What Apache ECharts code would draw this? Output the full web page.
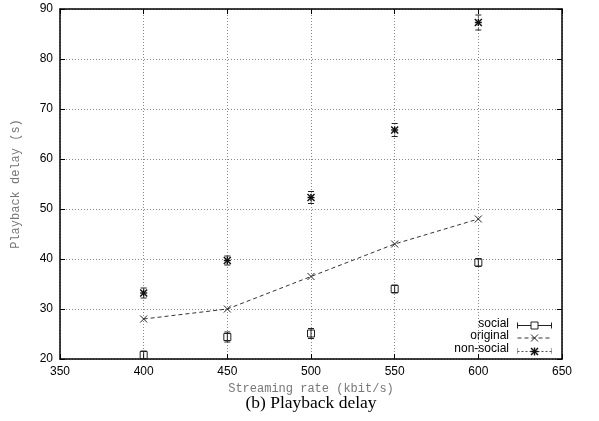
<!DOCTYPE html>
<html><head><meta charset="utf-8">
<script src="https://cdn.jsdelivr.net/npm/echarts@6/dist/echarts.min.js"></script>
<style>html,body{margin:0;padding:0;background:#fff}#c{width:599px;height:421px}</style>
</head><body><div id="c"></div>
<script>
const rates = [400, 450, 500, 550, 600];
const social = [20.8, 24.4, 25.1, 34.0, 39.3];
const socialErr = [0.8, 1.0, 1.0, 0.8, 0.8];
const original = [28.0, 30.0, 36.5, 43.0, 48.0];
const nonSocial = [33.2, 39.7, 52.3, 65.8, 87.3];
const nonSocialErr = [1.0, 0.9, 1.2, 1.3, 1.5];
const xTicks = [350, 400, 450, 500, 550, 600, 650];
const yTicks = [20, 30, 40, 50, 60, 70, 80, 90];

const chart = echarts.init(document.getElementById('c'), null, {renderer: 'canvas'});

function errData(vals, errs) {
  return rates.map((r, i) => [r, vals[i], vals[i] - errs[i], vals[i] + errs[i]]);
}

function markerShape(kind, x, y) {
  const s = 3.5;
  if (kind === 'square') {
    return {type: 'rect', shape: {x: x - s, y: y - s, width: 2 * s, height: 2 * s}, style: {fill: 'none', stroke: '#222', lineWidth: 1}};
  }
  if (kind === 'cross') {
    return {type: 'group', children: [
      {type: 'line', shape: {x1: x - s, y1: y - s, x2: x + s, y2: y + s}, style: {stroke: '#222', lineWidth: 1}},
      {type: 'line', shape: {x1: x - s, y1: y + s, x2: x + s, y2: y - s}, style: {stroke: '#222', lineWidth: 1}}
    ]};
  }
  return {type: 'group', children: [
    {type: 'line', shape: {x1: x - s, y1: y - s, x2: x + s, y2: y + s}, style: {stroke: '#111', lineWidth: 1.4}},
    {type: 'line', shape: {x1: x - s, y1: y + s, x2: x + s, y2: y - s}, style: {stroke: '#111', lineWidth: 1.4}},
    {type: 'line', shape: {x1: x - s, y1: y, x2: x + s, y2: y}, style: {stroke: '#111', lineWidth: 1.4}},
    {type: 'line', shape: {x1: x, y1: y - s, x2: x, y2: y + s}, style: {stroke: '#111', lineWidth: 1.4}}
  ]};
}

function errRender(kind, dashed) {
  return function (params, api) {
    const p = api.coord([api.value(0), api.value(1)]);
    const lo = api.coord([api.value(0), api.value(2)]);
    const hi = api.coord([api.value(0), api.value(3)]);
    const cap = 3;
    const ls = {stroke: dashed ? '#555' : '#222', lineWidth: 1, lineDash: dashed ? [2, 2] : null};
    return {type: 'group', children: [
      {type: 'line', shape: {x1: lo[0], y1: lo[1], x2: hi[0], y2: hi[1]}, style: ls},
      {type: 'line', shape: {x1: lo[0] - cap, y1: lo[1], x2: lo[0] + cap, y2: lo[1]}, style: {stroke: '#222', lineWidth: 1}},
      {type: 'line', shape: {x1: hi[0] - cap, y1: hi[1], x2: hi[0] + cap, y2: hi[1]}, style: {stroke: '#222', lineWidth: 1}},
      markerShape(kind, p[0], p[1])
    ]};
  };
}

function markRender(kind) {
  return function (params, api) {
    const p = api.coord([api.value(0), api.value(1)]);
    return markerShape(kind, p[0], p[1]);
  };
}

const tickFont = {fontFamily: 'Liberation Sans', fontSize: 12, color: '#000'};
const gridLine = {show: true, lineStyle: {color: '#888', type: [1, 2], width: 1}};

chart.setOption({
  animation: false,
  grid: {left: 60, right: 37, top: 9, bottom: 62},
  xAxis: [{
    type: 'value', min: 350, max: 650, interval: 50,
    axisLine: {show: true, lineStyle: {color: '#000', width: 1.5}},
    axisTick: {show: true, inside: true, length: 5, lineStyle: {color: '#000'}},
    axisLabel: Object.assign({margin: 7, formatter: v => xTicks.includes(v) ? String(v) : ''}, tickFont),
    splitLine: gridLine,
    name: 'Streaming rate (kbit/s)', nameLocation: 'middle', nameGap: 16,
    nameTextStyle: {fontFamily: 'Liberation Mono', fontSize: 12, color: '#777'}
  }, {
    type: 'value', min: 350, max: 650, interval: 50, position: 'top',
    axisLine: {show: true, lineStyle: {color: '#000', width: 1.5}},
    axisTick: {show: true, inside: true, length: 5, lineStyle: {color: '#000'}},
    axisLabel: {show: false}, splitLine: {show: false}
  }],
  yAxis: [{
    type: 'value', min: 20, max: 90, interval: 10,
    axisLine: {show: true, lineStyle: {color: '#000', width: 1.5}},
    axisTick: {show: true, inside: true, length: 5, lineStyle: {color: '#000'}},
    axisLabel: Object.assign({margin: 7, formatter: v => yTicks.includes(v) ? String(v) : ''}, tickFont),
    splitLine: gridLine,
    name: 'Playback delay (s)', nameLocation: 'middle', nameGap: 38, nameRotate: 90,
    nameTextStyle: {fontFamily: 'Liberation Mono', fontSize: 12, color: '#777'}
  }, {
    type: 'value', min: 20, max: 90, interval: 10, position: 'right',
    axisLine: {show: true, lineStyle: {color: '#000', width: 1.5}},
    axisTick: {show: true, inside: true, length: 5, lineStyle: {color: '#000'}},
    axisLabel: {show: false}, splitLine: {show: false}
  }],
  series: [
    {type: 'line', data: rates.map((r, i) => [r, original[i]]), symbol: 'none',
     lineStyle: {color: '#333', width: 1, type: [4, 3]}, z: 3},
    {type: 'custom', data: rates.map((r, i) => [r, original[i]]), renderItem: markRender('cross'), z: 4},
    {type: 'custom', data: errData(social, socialErr), renderItem: errRender('square', false), z: 5},
    {type: 'custom', data: errData(nonSocial, nonSocialErr), renderItem: errRender('star', true), z: 5}
  ],
  graphic: [
    {type: 'text', right: 90, top: 318, style: {text: 'social', font: '12px Liberation Sans', fill: '#000', textAlign: 'right'}},
    {type: 'text', right: 90, top: 330, style: {text: 'original', font: '12px Liberation Sans', fill: '#000', textAlign: 'right'}},
    {type: 'text', right: 90, top: 343, style: {text: 'non-social', font: '12px Liberation Sans', fill: '#000', textAlign: 'right'}},
    {type: 'group', left: 515, top: 320, children: [
      {type: 'line', shape: {x1: 0, y1: 4, x2: 34, y2: 4}, style: {stroke: '#222', lineWidth: 1}},
      {type: 'line', shape: {x1: 0, y1: 1, x2: 0, y2: 7}, style: {stroke: '#222', lineWidth: 1}},
      {type: 'line', shape: {x1: 34, y1: 1, x2: 34, y2: 7}, style: {stroke: '#222', lineWidth: 1}},
      {type: 'rect', shape: {x: 13.5, y: 0.5, width: 7, height: 7}, style: {fill: '#fff', stroke: '#222', lineWidth: 1}}
    ]},
    {type: 'group', left: 515, top: 332, children: [
      {type: 'line', shape: {x1: 0, y1: 4, x2: 34, y2: 4}, style: {stroke: '#333', lineWidth: 1, lineDash: [4, 3]}},
      {type: 'line', shape: {x1: 13.5, y1: 0.5, x2: 20.5, y2: 7.5}, style: {stroke: '#222', lineWidth: 1}},
      {type: 'line', shape: {x1: 13.5, y1: 7.5, x2: 20.5, y2: 0.5}, style: {stroke: '#222', lineWidth: 1}}
    ]},
    {type: 'group', left: 515, top: 345, children: [
      {type: 'line', shape: {x1: 0, y1: 4, x2: 34, y2: 4}, style: {stroke: '#555', lineWidth: 1, lineDash: [2, 2]}},
      {type: 'line', shape: {x1: 0, y1: 1, x2: 0, y2: 7}, style: {stroke: '#555', lineWidth: 1, lineDash: [1, 1]}},
      {type: 'line', shape: {x1: 34, y1: 1, x2: 34, y2: 7}, style: {stroke: '#555', lineWidth: 1, lineDash: [1, 1]}},
      {type: 'line', shape: {x1: 13.5, y1: 0.5, x2: 20.5, y2: 7.5}, style: {stroke: '#111', lineWidth: 1.4}},
      {type: 'line', shape: {x1: 13.5, y1: 7.5, x2: 20.5, y2: 0.5}, style: {stroke: '#111', lineWidth: 1.4}},
      {type: 'line', shape: {x1: 13, y1: 4, x2: 21, y2: 4}, style: {stroke: '#111', lineWidth: 1.4}},
      {type: 'line', shape: {x1: 17, y1: 0, x2: 17, y2: 8}, style: {stroke: '#111', lineWidth: 1.4}}
    ]},
    {type: 'text', x: 311, y: 394, style: {text: '(b) Playback delay', font: '17.5px Liberation Serif', fill: '#000', textAlign: 'center', textVerticalAlign: 'top'}}
  ]
});
</script>
</body></html>
